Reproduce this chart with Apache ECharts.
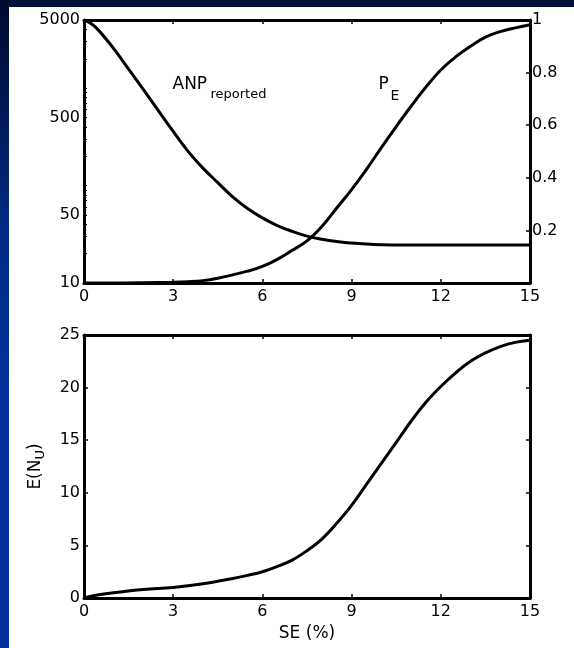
<!DOCTYPE html>
<html>
<head>
<meta charset="utf-8">
<script src="https://cdn.jsdelivr.net/npm/echarts@6.0.0/dist/echarts.min.js"></script>
<style>
  html, body { margin: 0; padding: 0; background: #fff; }
  #chart { width: 574px; height: 648px; }
</style>
</head>
<body>
<div id="chart"></div>
<script>
  var FONT = 'DejaVu Sans';

  // top panel, left log axis: ANP reported
  var anpX = [0, 0.25, 0.5, 1, 1.5, 2, 2.5, 3, 3.5, 4, 4.5, 5, 5.5, 6, 6.5, 7, 7.5, 8, 8.5, 9, 9.5, 10, 10.5, 11, 12, 13, 14, 15];
  var anpValues = [5000, 4570, 3890, 2540, 1567, 966, 589, 359, 224, 151, 107, 76.7, 58.2, 46.6, 38.9, 33.9, 30.3, 28.1, 26.6, 25.7, 25.1, 24.7, 24.5, 24.5, 24.5, 24.5, 24.5, 24.5];

  // top panel, right axis: P_E
  var peX = [0, 1, 2, 3, 3.5, 4, 4.5, 5, 5.5, 6, 6.5, 7, 7.5, 8, 8.5, 9, 9.5, 10, 10.5, 11, 11.5, 12, 12.5, 13, 13.5, 14, 14.5, 15];
  var peValues = [0, 0, 0.001, 0.003, 0.005, 0.009, 0.018, 0.031, 0.045, 0.063, 0.09, 0.124, 0.16, 0.215, 0.285, 0.355, 0.432, 0.515, 0.595, 0.672, 0.745, 0.81, 0.86, 0.9, 0.935, 0.956, 0.97, 0.982];

  // bottom panel: E(N_U)
  var enuX = [0, 0.5, 1, 2, 3, 4, 5, 5.5, 6, 6.5, 7, 7.5, 8, 8.5, 9, 9.5, 10, 10.5, 11, 11.5, 12, 12.5, 13, 13.5, 14, 14.5, 15];
  var enuValues = [0, 0.3, 0.5, 0.8, 1.0, 1.35, 1.85, 2.15, 2.5, 3.0, 3.6, 4.5, 5.6, 7.1, 8.8, 10.8, 12.8, 14.8, 16.8, 18.6, 20.1, 21.4, 22.5, 23.3, 23.9, 24.3, 24.5];

  // tick labels / tick positions on the log axis
  var logLabels = [10, 50, 500, 5000];
  var logTicks = [10, 20, 30, 40, 50, 60, 70, 80, 90, 100, 200, 300, 400, 500, 600, 700, 800, 900, 1000, 2000, 3000, 4000, 5000];

  function pairs(xs, ys) {
    return xs.map(function (x, i) { return [x, ys[i]]; });
  }

  var axisLine = { show: true, onZero: false, lineStyle: { color: '#000', width: 3 } };
  function ticks(extra) {
    return Object.assign({ show: true, inside: true, length: 4, lineStyle: { color: '#000', width: 1.5 } }, extra || {});
  }
  function labels(extra) {
    return Object.assign({ color: '#000', fontFamily: FONT, fontSize: 16 }, extra || {});
  }

  function xAxis(grid, position, showLabel) {
    return {
      type: 'value', gridIndex: grid, position: position, min: 0, max: 15, interval: 3,
      axisLine: axisLine, axisTick: ticks(), splitLine: { show: false },
      axisLabel: labels({ show: showLabel, margin: 6 })
    };
  }

  var chart = echarts.init(document.getElementById('chart'));
  chart.setOption({
    backgroundColor: '#fff',
    animation: false,
    graphic: [
      { type: 'rect', shape: { x: 0, y: 0, width: 574, height: 7 }, style: { fill: '#00113a' } },
      { type: 'rect', shape: { x: 0, y: 0, width: 9, height: 648 },
        style: { fill: new echarts.graphic.LinearGradient(0, 0, 0, 1, [
          { offset: 0, color: '#000a2e' }, { offset: 0.35, color: '#002a82' },
          { offset: 0.6, color: '#003399' }, { offset: 1, color: '#003399' }]) } },
      { type: 'text', x: 172.5, y: 85, style: { text: 'ANP', font: '17px ' + FONT, fill: '#000', verticalAlign: 'middle' } },
      { type: 'text', x: 210.5, y: 95, style: { text: 'reported', font: '13px ' + FONT, fill: '#000', verticalAlign: 'middle' } },
      { type: 'text', x: 378.5, y: 85, style: { text: 'P', font: '17px ' + FONT, fill: '#000', verticalAlign: 'middle' } },
      { type: 'text', x: 390.5, y: 96.5, style: { text: 'E', font: '14px ' + FONT, fill: '#000', verticalAlign: 'middle' } }
    ],
    grid: [
      { left: 84, right: 44, top: 20, height: 263 },
      { left: 84, right: 44, top: 335, height: 263 }
    ],
    xAxis: [
      xAxis(0, 'bottom', true),
      xAxis(0, 'top', false),
      Object.assign(xAxis(1, 'bottom', true), {
        name: 'SE (%)', nameLocation: 'middle', nameGap: 27,
        nameTextStyle: { color: '#000', fontFamily: FONT, fontSize: 17 }
      }),
      xAxis(1, 'top', false)
    ],
    yAxis: [
      {
        type: 'log', logBase: 10, gridIndex: 0, position: 'left', min: 10, max: 5000,
        axisLine: axisLine, splitLine: { show: false }, minorTick: { show: false },
        axisTick: ticks({ customValues: logTicks, length: 3, lineStyle: { color: '#000', width: 1 } }),
        axisLabel: labels({
          customValues: logLabels, margin: 4,
          formatter: function (v) { return String(Math.round(v)); }
        })
      },
      {
        type: 'value', gridIndex: 0, position: 'right', min: 0, max: 1, interval: 0.2,
        axisLine: axisLine, splitLine: { show: false }, axisTick: ticks(),
        axisLabel: labels({ margin: 2, showMinLabel: false })
      },
      {
        type: 'value', gridIndex: 1, position: 'left', min: 0, max: 25, interval: 5,
        axisLine: axisLine, splitLine: { show: false }, axisTick: ticks(),
        axisLabel: labels({ margin: 4 }),
        name: '{a|E(N}{s|U}{a|)}', nameLocation: 'middle', nameGap: 37,
        nameTextStyle: {
          color: '#000', fontFamily: FONT,
          rich: {
            a: { fontFamily: FONT, fontSize: 17, color: '#000', lineHeight: 22, verticalAlign: 'middle' },
            s: { fontFamily: FONT, fontSize: 13, color: '#000', lineHeight: 22, verticalAlign: 'bottom' }
          }
        }
      },
      {
        type: 'value', gridIndex: 1, position: 'right', min: 0, max: 25, interval: 5,
        axisLine: axisLine, splitLine: { show: false }, axisTick: ticks(),
        axisLabel: { show: false }
      }
    ],
    series: [
      {
        name: 'ANP reported', type: 'line', xAxisIndex: 0, yAxisIndex: 0,
        data: pairs(anpX, anpValues), showSymbol: false, smooth: 0.4,
        lineStyle: { color: '#000', width: 3 }
      },
      {
        name: 'P_E', type: 'line', xAxisIndex: 0, yAxisIndex: 1,
        data: pairs(peX, peValues), showSymbol: false, smooth: 0.4,
        lineStyle: { color: '#000', width: 3 }
      },
      {
        name: 'E(N_U)', type: 'line', xAxisIndex: 2, yAxisIndex: 2,
        data: pairs(enuX, enuValues), showSymbol: false, smooth: 0.4,
        lineStyle: { color: '#000', width: 3 }
      }
    ]
  });
</script>
</body>
</html>
